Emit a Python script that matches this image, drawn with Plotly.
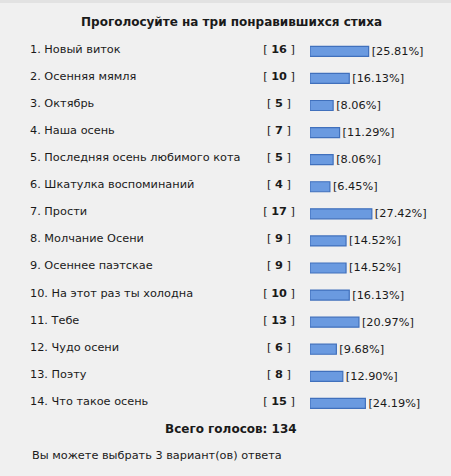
import plotly.graph_objects as go

title = "Проголосуйте на три понравившихся стиха"
options = [
    "1. Новый виток",
    "2. Осенняя мямля",
    "3. Октябрь",
    "4. Наша осень",
    "5. Последняя осень любимого кота",
    "6. Шкатулка воспоминаний",
    "7. Прости",
    "8. Молчание Осени",
    "9. Осеннее паэтскае",
    "10. На этот раз ты холодна",
    "11. Тебе",
    "12. Чудо осени",
    "13. Поэту",
    "14. Что такое осень",
]
votes = [16, 10, 5, 7, 5, 4, 17, 9, 9, 10, 13, 6, 8, 15]
percents = [25.81, 16.13, 8.06, 11.29, 8.06, 6.45, 27.42, 14.52, 14.52, 16.13, 20.97, 9.68, 12.90, 24.19]
total_label = "Всего голосов:"
footer = "Вы можете выбрать 3 вариант(ов) ответа"

W, H = 451, 476
FONT = "DejaVu Sans, Verdana, sans-serif"
FS = 11.3
FSB = 12
TXT = "#1a1a1a"
rows = list(range(len(options)))

# pixel geometry
ROW0, ROWSTEP = 50, 27.08
y_range = [(H - ROW0) / ROWSTEP, -ROW0 / ROWSTEP]
BAR_X0 = 310
PX_PER_PCT = 2.0
CAP = 3.5  # rounded-cap padding in % units

fig = go.Figure()

fig.add_trace(go.Scatter(
    x=[30] * len(options), y=rows, mode="text", text=options,
    textposition="middle right",
    textfont=dict(family=FONT, size=FS, color=TXT),
    hoverinfo="skip", showlegend=False, xaxis="x", yaxis="y",
))
fig.add_trace(go.Scatter(
    x=[279] * len(options), y=rows, mode="text",
    text=[f"[ <b>{v}</b> ]" for v in votes],
    textposition="middle center",
    textfont=dict(family=FONT, size=FS, color=TXT),
    hoverinfo="skip", showlegend=False, xaxis="x", yaxis="y",
))
fig.add_trace(go.Bar(
    x=[p + CAP for p in percents], y=[r + 0.05 for r in rows], base=-CAP,
    orientation="h", width=0.37,
    marker=dict(color="#6a9ae0", line=dict(color="#4070bc", width=1.2)),
    text=[f"[{p:.2f}%]" for p in percents],
    textposition="outside", constraintext="none", cliponaxis=False,
    outsidetextfont=dict(family=FONT, size=FS, color=TXT),
    hoverinfo="skip", showlegend=False, xaxis="x2", yaxis="y",
))

fig.update_layout(
    width=W, height=H,
    margin=dict(l=0, r=0, t=0, b=0, autoexpand=False),
    paper_bgcolor="#f0f0f0", plot_bgcolor="rgba(0,0,0,0)",
    xaxis=dict(range=[0, W], domain=[0, 1], visible=False, fixedrange=True),
    xaxis2=dict(range=[-CAP, -CAP + (W - BAR_X0) / PX_PER_PCT],
                domain=[BAR_X0 / W, 1], visible=False, anchor="y"),
    yaxis=dict(range=y_range, domain=[0, 1], visible=False),
    shapes=[dict(type="rect", xref="paper", yref="paper", x0=0, x1=1,
                 y0=1 - 3 / H, y1=1, fillcolor="#e2e2e2", line=dict(width=0), layer="below")],
    annotations=[
        dict(text=f"<b>{title}</b>", xref="paper", yref="paper", x=231 / W, y=1 - 22 / H,
             showarrow=False, xanchor="center", yanchor="middle",
             font=dict(family=FONT, size=FSB, color=TXT)),
        dict(text=f"<b>{total_label} {sum(votes)}</b>", xref="paper", yref="paper",
             x=231 / W, y=1 - 429 / H, showarrow=False, xanchor="center", yanchor="middle",
             font=dict(family=FONT, size=FSB, color=TXT)),
        dict(text=footer, xref="paper", yref="paper", x=30 / W, y=1 - 455 / H,
             showarrow=False, xanchor="left", yanchor="middle",
             font=dict(family=FONT, size=FS, color=TXT)),
    ],
)

fig.write_html("out.html", config={"displayModeBar": False},
               post_script="document.body.style.margin='0';")
